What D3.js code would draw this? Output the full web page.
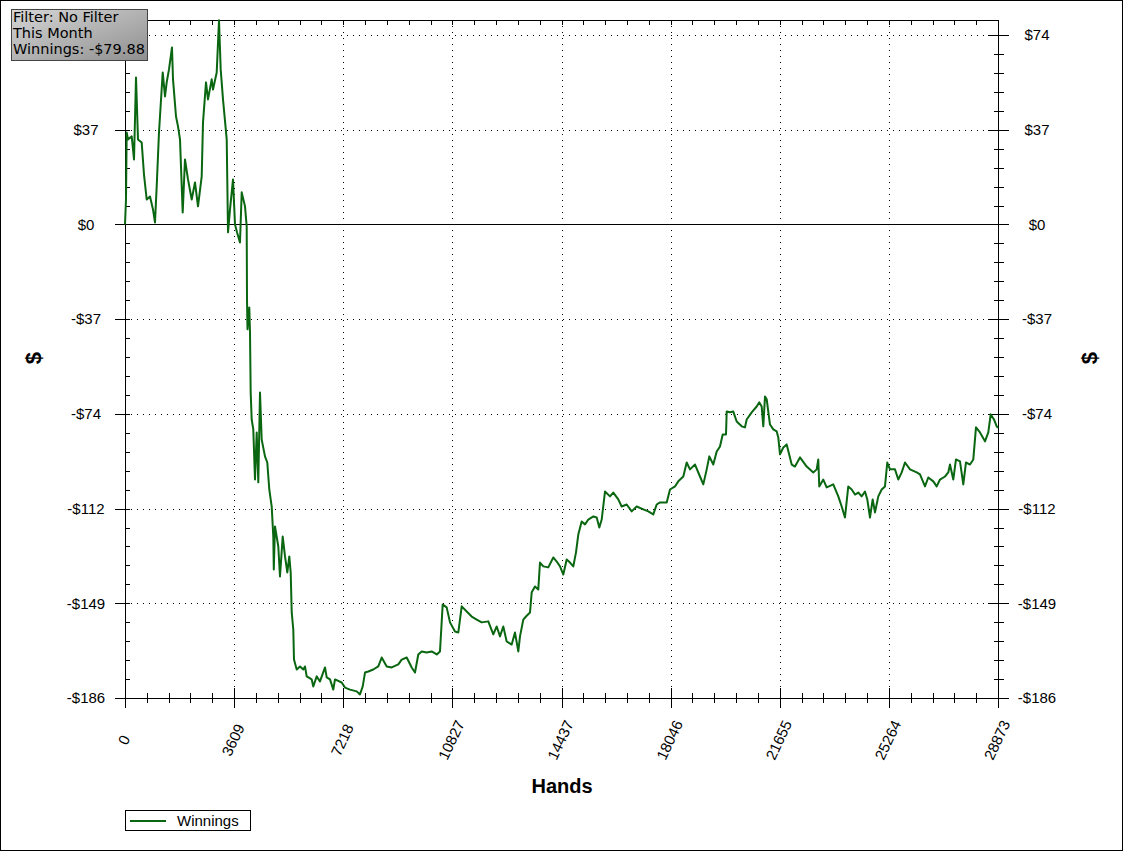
<!DOCTYPE html>
<html>
<head>
<meta charset="utf-8">
<script src="https://cdn.jsdelivr.net/npm/d3@7"></script>
<style>
  html, body { margin: 0; padding: 0; background: #fff; }
  svg { display: block; }
</style>
</head>
<body>
<script>
// ---- data (hand number, cumulative winnings in $) ----
const hands = [0,33,56,99,222,298,364,430,552,628,718,827,926,992,1048,1124,1247,1323,1379,1455,1554,1588,1687,1753,1819,1908,1984,2084,2206,2315,2414,2537,2580,2679,2745,2867,2910,3033,3109,3165,3241,3364,3407,3473,3572,3638,3704,3803,3860,3969,4025,4035,4051,4111,4134,4157,4190,4243,4299,4356,4409,4465,4521,4630,4706,4772,4852,4905,4921,4961,5070,5126,5216,5292,5368,5434,5480,5514,5566,5589,5679,5788,5897,5953,6009,6175,6227,6340,6449,6615,6671,6780,6889,6945,7167,7276,7441,7663,7772,7861,7938,8047,8212,8377,8490,8655,8821,9039,9151,9317,9482,9591,9700,9813,9978,10143,10309,10418,10507,10639,10749,10914,11023,11136,11301,11466,11632,11797,12015,12181,12293,12402,12511,12624,12789,12898,13008,13064,13173,13262,13395,13451,13560,13669,13725,13835,14000,14165,14278,14387,14496,14608,14717,14827,14916,14992,15104,15214,15323,15488,15601,15687,15766,15875,16040,16150,16315,16427,16593,16758,16923,17142,17307,17472,17585,17694,17916,18025,18190,18299,18465,18577,18686,18852,19017,19126,19239,19325,19457,19570,19678,19768,19877,19900,20009,20118,20231,20396,20505,20561,20727,20892,20978,21057,21110,21167,21223,21332,21441,21554,21607,21663,21772,21884,22050,22159,22324,22546,22764,22876,22929,22962,23095,23207,23425,23591,23703,23812,23921,24034,24143,24252,24364,24474,24550,24639,24728,24805,24914,25026,25135,25211,25301,25466,25575,25688,25797,25962,26184,26293,26458,26567,26733,26845,26954,27120,27229,27285,27394,27483,27616,27725,27814,27947,28056,28145,28277,28443,28552,28631,28740,28830,28873];
const winnings = [0,9.8,36.1,33.4,34.6,25.5,57.7,33.4,32.2,19.6,9.8,11.0,5.9,0.8,14.9,36.1,59.7,50.3,55.8,60.9,69.5,57.0,42.4,38.5,33.4,4.7,25.5,17.7,9.8,16.5,7.1,18.9,40.1,55.8,49.1,57.0,53.0,59.7,80.2,60.9,49.1,33.4,-3.1,5.9,17.7,0,-3.1,-7.1,12.6,7.1,-0.8,-29.5,-41.2,-32.6,-42.4,-66.0,-76.6,-80.5,-100.2,-81.7,-101.3,-66.0,-84.5,-91.1,-93.5,-104.1,-110.8,-122.6,-135.5,-118.6,-126.5,-138.3,-122.6,-130.4,-136.7,-130.4,-136.7,-152.4,-159.1,-170.9,-174.8,-173.6,-174.8,-173.6,-177.5,-178.7,-181.5,-177.5,-179.5,-174.0,-177.9,-178.7,-182.7,-178.7,-179.9,-181.9,-182.7,-183.4,-184.6,-181.5,-176.0,-175.6,-174.8,-173.6,-170.1,-173.6,-174.0,-172.8,-170.9,-170.1,-174.0,-176.0,-168.9,-167.7,-168.1,-167.7,-168.9,-167.7,-149.3,-150.4,-156.3,-159.9,-160.3,-150.0,-152.0,-154.0,-155.2,-156.3,-155.9,-161.0,-157.9,-161.8,-157.9,-163.8,-165.0,-160.3,-167.7,-161.8,-155.2,-154.0,-152.4,-144.5,-142.2,-143.4,-132.8,-134.3,-134.7,-130.8,-132.4,-134.3,-137.5,-131.6,-132.8,-134.3,-128.8,-121.8,-116.7,-117.8,-115.9,-114.7,-115.1,-119.0,-115.9,-104.9,-106.8,-105.3,-108.0,-110.8,-110.0,-112.7,-110.8,-111.9,-112.7,-113.9,-110.0,-109.2,-109.2,-104.1,-102.9,-100.9,-99.0,-93.5,-96.2,-94.3,-99.0,-102.1,-96.2,-91.1,-94.3,-89.2,-87.2,-82.5,-82.5,-73.5,-73.8,-73.5,-77.4,-79.3,-79.7,-76.6,-73.8,-71.5,-69.9,-71.5,-79.3,-67.6,-68.7,-78.6,-80.5,-81.3,-83.7,-90.3,-87.6,-86.4,-94.3,-95.1,-91.5,-95.1,-97.4,-96.2,-92.3,-102.9,-100.2,-103.3,-102.1,-106.8,-110.8,-115.1,-102.9,-104.1,-106.1,-105.3,-106.8,-104.9,-108.0,-115.1,-108.0,-113.1,-106.8,-104.1,-102.9,-93.5,-96.2,-96.2,-100.2,-97.4,-93.5,-96.2,-97.4,-98.2,-102.9,-99.4,-100.9,-102.9,-100.2,-99.0,-97.4,-94.3,-100.2,-92.3,-93.1,-102.1,-93.5,-94.3,-92.3,-79.7,-81.7,-85.2,-81.7,-74.6,-76.6,-79.3,-79.88];

const yTickValues = [-186, -148.8, -111.6, -74.4, -37.2, 0, 37.2, 74.4];
const yTickLabels = ["-$186", "-$149", "-$112", "-$74", "-$37", "$0", "$37", "$74"];
const xTickValues = [0, 3609.125, 7218.25, 10827.375, 14436.5, 18045.625, 21654.75, 25263.875, 28873];
const xTickLabels = ["0", "3609", "7218", "10827", "14437", "18046", "21655", "25264", "28873"];
const seriesName = "Winnings";
const infoLines = ["Filter: No Filter", "This Month", "Winnings: -$79.88"];

// ---- layout ----
const W = 1124, H = 852;
const L = 125, R = 998, T = 20, B = 698;
const lineColor = "#0a6610";
const labelFont = "'Liberation Sans', Arial, sans-serif";

const svg = d3.select("body").append("svg").attr("width", W).attr("height", H);

const x = d3.scaleLinear().domain([0, 28873]).range([L, R]);
const y = d3.scaleLinear().domain([-186, 80.3]).range([B, T]);

svg.append("rect").attr("x", 0.5).attr("y", 0.5).attr("width", W - 2).attr("height", H - 2)
  .attr("fill", "#fff").attr("stroke", "#000");

// minor tick values
const yStep = 37.2 / 5;
const yMinor = d3.range(-186, 80.3, yStep).filter(v => !yTickValues.some(t => Math.abs(t - v) < 0.01));
const xStep = 28873 / 40;
const xMinor = d3.range(0, 28873 + 1, xStep).filter(v => !xTickValues.some(t => Math.abs(t - v) < 1));

const g = svg.append("g").attr("shape-rendering", "crispEdges");

// gridlines (dotted)
g.selectAll(".hgrid").data(yTickValues.filter(v => v !== 0)).join("line")
  .attr("x1", L).attr("x2", R).attr("y1", d => Math.round(y(d)) + 0.5).attr("y2", d => Math.round(y(d)) + 0.5)
  .attr("stroke", "#000").attr("stroke-dasharray", "1,5");
g.selectAll(".vgrid").data(xTickValues.slice(1, -1)).join("line")
  .attr("y1", T).attr("y2", B).attr("x1", d => Math.round(x(d)) + 0.5).attr("x2", d => Math.round(x(d)) + 0.5)
  .attr("stroke", "#000").attr("stroke-dasharray", "1,5");

// zero line
g.append("line").attr("x1", L - 10).attr("x2", R + 11)
  .attr("y1", Math.round(y(0)) + 0.5).attr("y2", Math.round(y(0)) + 0.5).attr("stroke", "#000");

// frame
g.append("path")
  .attr("d", `M${L + 0.5},${T + 0.5}H${R + 0.5}V${B + 0.5}H${L + 0.5}Z`)
  .attr("fill", "none").attr("stroke", "#000");

// left ticks
g.selectAll(".lmaj").data(yTickValues).join("line")
  .attr("x1", L - 10).attr("x2", L + 5)
  .attr("y1", d => Math.round(y(d)) + 0.5).attr("y2", d => Math.round(y(d)) + 0.5).attr("stroke", "#000");
g.selectAll(".lmin").data(yMinor).join("line")
  .attr("x1", L).attr("x2", L + 5)
  .attr("y1", d => Math.round(y(d)) + 0.5).attr("y2", d => Math.round(y(d)) + 0.5).attr("stroke", "#000");
// right ticks
g.selectAll(".rmaj").data(yTickValues).join("line")
  .attr("x1", R - 10).attr("x2", R + 11)
  .attr("y1", d => Math.round(y(d)) + 0.5).attr("y2", d => Math.round(y(d)) + 0.5).attr("stroke", "#000");
g.selectAll(".rmin").data(yMinor).join("line")
  .attr("x1", R - 4).attr("x2", R + 6)
  .attr("y1", d => Math.round(y(d)) + 0.5).attr("y2", d => Math.round(y(d)) + 0.5).attr("stroke", "#000");
// bottom ticks
g.selectAll(".bmaj").data(xTickValues).join("line")
  .attr("y1", B - 10).attr("y2", B + 10)
  .attr("x1", d => Math.round(x(d)) + 0.5).attr("x2", d => Math.round(x(d)) + 0.5).attr("stroke", "#000");
g.selectAll(".bmin").data(xMinor).join("line")
  .attr("y1", B - 5).attr("y2", B + 5)
  .attr("x1", d => Math.round(x(d)) + 0.5).attr("x2", d => Math.round(x(d)) + 0.5).attr("stroke", "#000");
// top ticks
g.selectAll(".tmin").data(xMinor.concat(xTickValues)).join("line")
  .attr("y1", T).attr("y2", T + 5)
  .attr("x1", d => Math.round(x(d)) + 0.5).attr("x2", d => Math.round(x(d)) + 0.5).attr("stroke", "#000");

// y labels (the left "$74" lies hidden under the info box in the reference)
const leftIdx = yTickValues.map((d, i) => i).filter(i => y(yTickValues[i]) > 62);
svg.selectAll(".ylabL").data(leftIdx).join("text")
  .attr("x", 86).attr("y", i => y(yTickValues[i])).attr("dy", "0.35em")
  .attr("text-anchor", "middle").attr("font-family", labelFont).attr("font-size", 15)
  .text(i => yTickLabels[i]);
svg.selectAll(".ylabR").data(yTickValues).join("text")
  .attr("x", 1037).attr("y", d => y(d)).attr("dy", "0.35em")
  .attr("text-anchor", "middle").attr("font-family", labelFont).attr("font-size", 15)
  .text((d, i) => yTickLabels[i]);

// x labels (rotated)
svg.selectAll(".xlab").data(xTickValues).join("text")
  .attr("transform", d => `translate(${x(d) - 1},740) rotate(-65)`)
  .attr("dy", "0.35em")
  .attr("text-anchor", "middle").attr("font-family", labelFont).attr("font-size", 15)
  .text((d, i) => xTickLabels[i]);

// axis titles
svg.append("text").attr("x", 562).attr("y", 786).attr("dy", "0.35em")
  .attr("text-anchor", "middle").attr("font-family", labelFont).attr("font-weight", "bold")
  .attr("font-size", 20).text("Hands");
svg.append("text").attr("transform", "translate(33,358) rotate(-90)").attr("dy", "0.35em")
  .attr("text-anchor", "middle").attr("font-family", labelFont).attr("font-weight", "bold")
  .attr("font-size", 22).text("$");
svg.append("text").attr("transform", "translate(1089,358) rotate(-90)").attr("dy", "0.35em")
  .attr("text-anchor", "middle").attr("font-family", labelFont).attr("font-weight", "bold")
  .attr("font-size", 22).text("$");

// series line
const line = d3.line().x((d, i) => x(hands[i])).y(d => y(d));
svg.append("path").datum(winnings)
  .attr("d", line).attr("fill", "none").attr("stroke", lineColor)
  .attr("stroke-width", 2).attr("stroke-linejoin", "round");

// legend
const lg = svg.append("g");
lg.append("rect").attr("x", 125.5).attr("y", 810.5).attr("width", 125).attr("height", 20)
  .attr("fill", "#fff").attr("stroke", "#000").attr("shape-rendering", "crispEdges");
lg.append("line").attr("x1", 130).attr("x2", 166).attr("y1", 821).attr("y2", 821)
  .attr("stroke", lineColor).attr("stroke-width", 2);
lg.append("text").attr("x", 177).attr("y", 821).attr("dy", "0.35em")
  .attr("font-family", labelFont).attr("font-size", 15).text(seriesName);

// info box
const defs = svg.append("defs");
const grad = defs.append("linearGradient").attr("id", "boxgrad")
  .attr("x1", 0).attr("y1", 0).attr("x2", 1).attr("y2", 1);
grad.append("stop").attr("offset", "0%").attr("stop-color", "#d6d6d6");
grad.append("stop").attr("offset", "100%").attr("stop-color", "#8f8f8f");
svg.append("rect").attr("x", 11.5).attr("y", 9.5).attr("width", 136).attr("height", 51)
  .attr("fill", "url(#boxgrad)").attr("stroke", "#444");
svg.selectAll(".info").data(infoLines).join("text")
  .attr("x", 13).attr("y", (d, i) => 22 + i * 16)
  .attr("font-family", "'DejaVu Sans', Verdana, sans-serif").attr("font-size", 14.5)
  .text(d => d);
</script>
</body>
</html>
